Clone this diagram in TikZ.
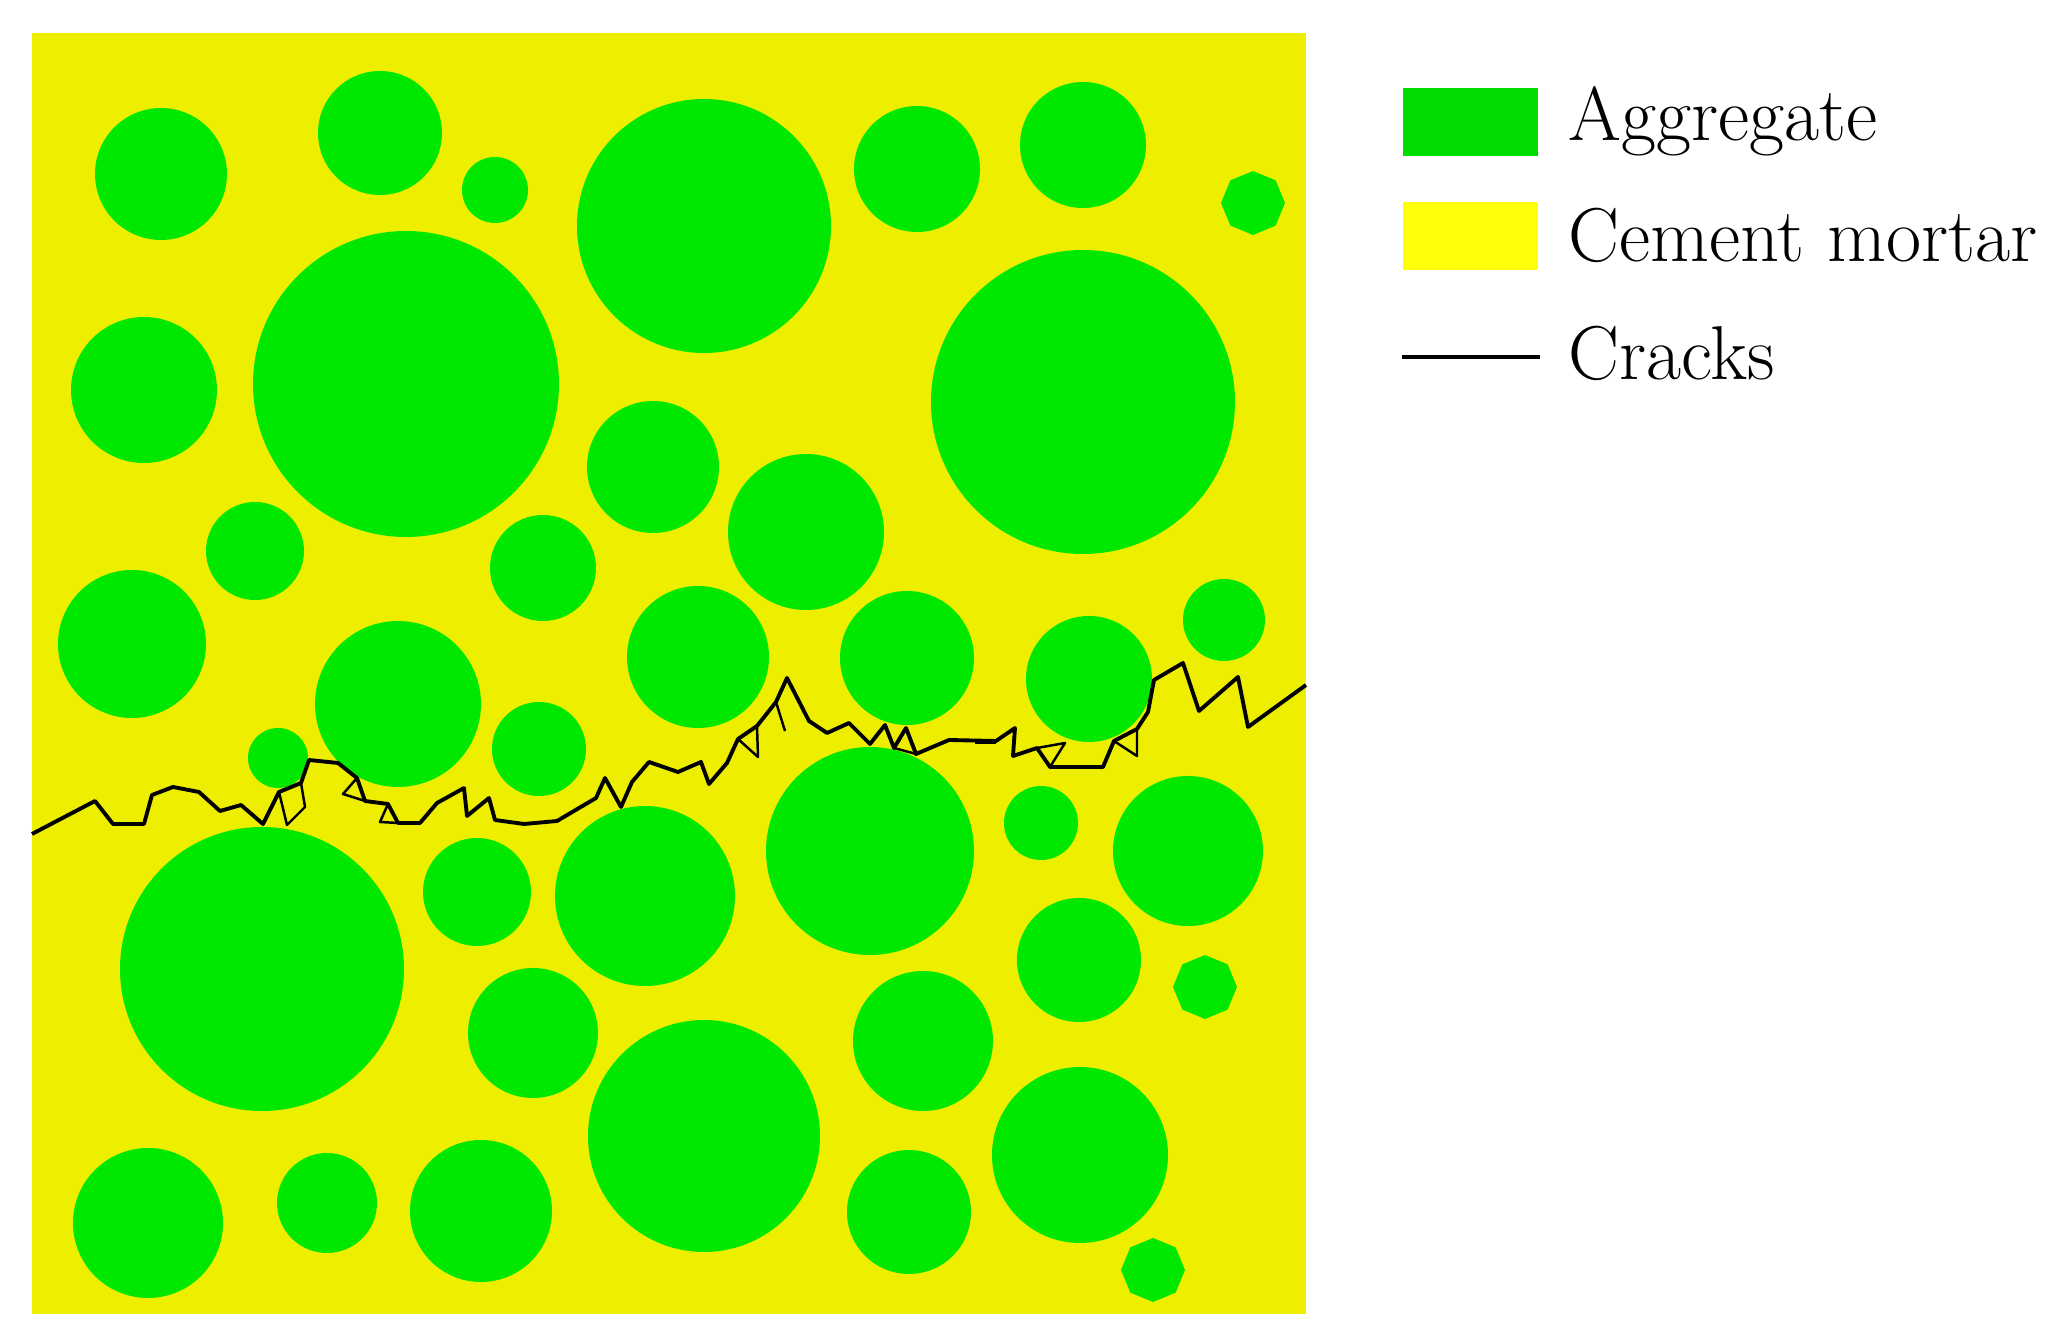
\documentclass[tikz,border=0pt]{standalone}
\usepackage{xcolor}
\usepackage{tikz}
\usetikzlibrary{positioning,calc}
\definecolor{agg}{HTML}{00E800}
\definecolor{mtr}{HTML}{EEEE00}
\definecolor{aggk}{HTML}{00DC00}
\definecolor{mtrk}{HTML}{FFFF0A}
\newcommand{\legendtext}[1]{\fontsize{21.7}{25}\selectfont #1}

\begin{document}
\begin{tikzpicture}[x=0.01cm, y=-0.01cm,
    grain/.style={fill=agg},
    crack/.style={draw=black, line width=1.1pt, line join=round},
    spur/.style={draw=black, line width=0.7pt, line join=round},
    keybox/.style={minimum width=1.35cm, minimum height=0.68cm, inner sep=0pt, anchor=north west},
    keytext/.style={anchor=base west, inner sep=0pt, font=\legendtext{}}]
  \useasboundingbox (0,0) rectangle (2068,1331);
  % mortar matrix
  \fill[mtr] (32,33) rectangle (1306,1314);
  % aggregates: x / y / r
  \foreach \x/\y/\r in {161/174/66, 380/133/62, 495/190/33, 704/226/127,
      917/169/63, 1083/145/63, 144/390/73, 406/384/153,
      1083/402/152, 653/467/66, 806/532/78, 255/551/49, 543/568/53,
      132/644/74, 398/704/83, 698/657/71, 907/658/67, 1089/679/63,
      1224/620/41, 278/758/30, 539/749/47, 262/969/142, 477/892/54,
      645/896/90, 870/851/104, 1041/823/37, 1188/851/75, 1079/960/62,
      533/1033/65, 704/1136/116, 923/1041/70, 1080/1155/88,
      148/1223/75, 327/1203/50, 481/1211/71, 909/1212/62}
    \fill[grain] (\x,\y) circle (\r);
  % small octagonal grains
  \foreach \x/\y in {1253/203, 1205/987, 1153/1270}
    \fill[grain] (\x,\y) +(0:32) \foreach \a in {45,90,...,315} { -- +(\a:32) } -- cycle;
  % main crack
  \draw[crack] (32,834) -- (95,801) -- (113,824) -- (144,824) -- (152,795)
    -- (173,787) -- (199,792) -- (220,811) -- (241,805) -- (263,824)
    -- (279,792) -- (301,783) -- (309,760) -- (338,763) -- (357,778)
    -- (365,801) -- (388,804) -- (398,823) -- (420,823) -- (437,803)
    -- (464,788) -- (467,816) -- (489,798) -- (495,820) -- (524,824)
    -- (557,821) -- (596,798) -- (605,778) -- (621,807) -- (632,782)
    -- (649,762) -- (678,772) -- (701,762) -- (709,784) -- (727,763)
    -- (738,739) -- (757,726) -- (776,702) -- (787,678) -- (809,721)
    -- (827,733) -- (849,723) -- (870,744) -- (885,725) -- (894,748)
    -- (906,728) -- (916,754) -- (949,740) -- (996,741) -- (1015,728)
    -- (1013,756) -- (1037,748) -- (1050,767) -- (1103,767) -- (1114,741)
    -- (1137,729) -- (1148,712) -- (1154,680) -- (1183,663) -- (1199,711)
    -- (1238,677) -- (1248,727) -- (1306,685);
  % side branches
  \draw[spur] (279,792) -- (287,825) -- (305,807) -- (301,783);
  \draw[spur] (357,778) -- (343,794) -- (365,801);
  \draw[spur] (388,804) -- (380,822) -- (398,823);
  \draw[spur] (738,739) -- (758,757) -- (757,726);
  \draw[spur] (776,702) -- (785,731);
  \draw[spur] (894,748) -- (916,754);
  \draw[spur] (1037,748) -- (1065,743) -- (1050,767);
  \draw[spur] (975,743) -- (996,743);
  \draw[spur] (1114,741) -- (1137,756) -- (1137,729);
  % legend
  \node[keybox, fill=aggk] (keyA) at (1402,87) {};
  \node[keybox, fill=mtrk] (keyC) at (1402,201) {};
  \coordinate (keyL) at (1402,357);
  \coordinate (keyR) at (1540,357);
  \draw[line width=1.2pt] (keyL) -- (keyR);
  \node[keytext] (txtA) at (1568,141) {Aggregate};
  \node[keytext] (txtC) at (1568,262) {Cement mortar};
  \node[keytext] (txtK) at (1568,380) {Cracks};
\end{tikzpicture}
\end{document}
